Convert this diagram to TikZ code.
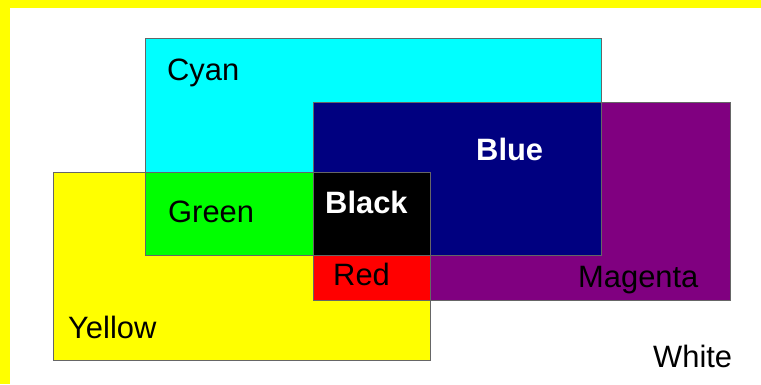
\documentclass[tikz,border=0pt]{standalone}
\usepackage{fontspec}
\setmainfont{Liberation Sans}
\definecolor{navy}{RGB}{0,0,128}
\definecolor{plum}{RGB}{128,0,128}
\definecolor{aqua}{RGB}{0,255,255}
\definecolor{lemon}{RGB}{255,255,0}
\definecolor{lime}{RGB}{0,255,0}
\definecolor{scarlet}{RGB}{255,0,0}
\begin{document}
\begin{tikzpicture}[x=1bp,y=-1bp,
  lbl/.style={anchor=base west,inner sep=0pt,font=\fontsize{31}{36}\selectfont},
  edge/.style={draw=black!60,line width=1bp}]
\useasboundingbox (0,0) rectangle (761,384);
\fill[lemon] (0,0) rectangle (761,384);
\fill[white] (10,8) rectangle (761,384);
\fill[lemon] (53,172) rectangle (430,360);
\fill[aqua] (145,38) rectangle (601,255);
\fill[plum] (313,102) rectangle (730,300);
\fill[lime] (145,172) rectangle (313,255);
\fill[navy] (313,102) rectangle (601,255);
\fill[scarlet] (313,255) rectangle (430,300);
\fill[black] (313,172) rectangle (430,255);
\draw[edge] (53,172) rectangle (430,360);
\draw[edge] (145,38) rectangle (601,255);
\draw[edge] (313,102) rectangle (730,300);
\node[lbl] (cyanlbl) at (167,80) {Cyan};
\node[lbl,white,font=\fontsize{31}{36}\selectfont\bfseries] (bluelbl) at (476,160) {Blue};
\node[lbl] (greenlbl) at (168,222) {Green};
\node[lbl,white,font=\fontsize{31}{36}\selectfont\bfseries] (blacklbl) at (325,213) {Black};
\node[lbl] (redlbl) at (333,285) {Red};
\node[lbl] (magentalbl) at (578,287) {Magenta};
\node[lbl] (yellowlbl) at (68,338) {Yellow};
\node[lbl] (whitelbl) at (653,367) {White};
\end{tikzpicture}
\end{document}
